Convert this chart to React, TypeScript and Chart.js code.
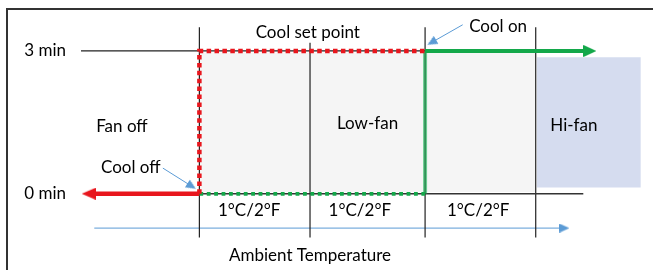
import React, { useEffect, useRef } from 'react';
import { Chart, registerables } from 'chart.js';

Chart.register(...registerables);

// ---- data (temperature steps in °C above the Cool-off point, delay in minutes) ----
const delayMinutes = [0, 3];
const delayLabels = ['0 min', '3 min'];
const stageEdges = [0, 1, 2.04, 3.04]; // Cool off, Cool set point, Cool on, Hi-fan
const dividerTops = [3.5, 3.17, 3.5, 3.5];
const dividerBottom = -0.92;
const stepLabels = ['1°C/2°F', '1°C/2°F', '1°C/2°F'];
const stepLabelX = [0.45, 1.45, 2.52];
const stepLabelY = -0.35;
const zoneNames = ['Fan off', 'Low-fan', 'Hi-fan'];
const zoneX = [-0.7, 1.52, 3.385];
const zoneY = [1.42, 1.47, 1.44];
const hiFanX = [3.05, 3.99];
const hiFanY = [0.13, 2.87];
const topLineStart = -1.07;
const baseLineEnd = 3.47;
const offArrowEnd = -1.0;
const onArrowEnd = 3.53;
const axisArrowY = -0.72;
const axisArrowX = [-0.95, 3.3];
const coolOffPointer = [{ x: -0.33, y: 0.54 }, { x: -0.07, y: 0.16 }];
const coolOnPointer = [{ x: 2.38, y: 3.55 }, { x: 2.1, y: 3.18 }];
const titleTexts = ['Cool set point', 'Cool on', 'Cool off', 'Ambient Temperature'];
const titleX = [0.98, 2.7, -0.62, 1.0];
const titleY = [3.38, 3.52, 0.56, -1.29];

const FONT = 'Lato, "Open Sans", sans-serif';
const RED = '#e8161d';
const GREEN = '#13a84a';
const BLUE = '#5b9bd5';

function arrowHead(len: number, half: number, color: string) {
  const c = document.createElement('canvas');
  c.width = len;
  c.height = half * 2;
  const g = c.getContext('2d')!;
  g.fillStyle = color;
  g.beginPath();
  g.moveTo(0, 0);
  g.lineTo(len, half);
  g.lineTo(0, half * 2);
  g.closePath();
  g.fill();
  return c;
}

const pointerRotation = (ctx: any) => {
  const d = ctx.dataset.data;
  const sx = ctx.chart.scales.x;
  const sy = ctx.chart.scales.y;
  const dx = sx.getPixelForValue(d[1].x) - sx.getPixelForValue(d[0].x);
  const dy = sy.getPixelForValue(d[1].y) - sy.getPixelForValue(d[0].y);
  return (Math.atan2(dy, dx) * 180) / Math.PI;
};

const zeroPadding = (s: any) => {
  s.paddingTop = 0;
  s.paddingBottom = 0;
  s.paddingLeft = 0;
  s.paddingRight = 0;
};

const textPlugin = {
  id: 'diagramText',
  beforeDraw(chart: any) {
    const ctx = chart.ctx;
    ctx.save();
    ctx.fillStyle = '#333';
    ctx.fillRect(6, 8, 2, chart.height);
    ctx.fillRect(6, 8, chart.width, 2);
    ctx.restore();
  },
  afterDatasetsDraw(chart: any) {
    const ctx = chart.ctx;
    const sx = chart.scales.x;
    const sy = chart.scales.y;
    ctx.save();
    ctx.font = `17px ${FONT}`;
    ctx.fillStyle = '#000';
    ctx.textAlign = 'center';
    ctx.textBaseline = 'middle';
    const put = (t: string, x: number, y: number) =>
      ctx.fillText(t, sx.getPixelForValue(x), sy.getPixelForValue(y));
    stepLabels.forEach((t, i) => put(t, stepLabelX[i], stepLabelY));
    zoneNames.forEach((t, i) => put(t, zoneX[i], zoneY[i]));
    titleTexts.forEach((t, i) => put(t, titleX[i], titleY[i]));
    ctx.restore();
  },
};

export default function App() {
  const ref = useRef<HTMLCanvasElement>(null);
  useEffect(() => {
    const redHead = arrowHead(14, 6, RED);
    const greenHead = arrowHead(13, 6, GREEN);
    const blueHead = arrowHead(10, 4.5, BLUE);
    const ptrHead = arrowHead(10, 4.5, BLUE);
    const e = stageEdges;
    const dividerData: any[] = [];
    e.forEach((x, i) => {
      dividerData.push({ x, y: dividerTops[i] }, { x, y: dividerBottom }, { x, y: null });
    });
    const line = (extra: any) => ({
      type: 'line',
      pointRadius: 0,
      pointHoverRadius: 0,
      borderCapStyle: 'butt',
      fill: false,
      tension: 0,
      ...extra,
    });
    const chart = new Chart(ref.current!, {
      type: 'line',
      data: {
        datasets: [
          line({
            label: 'Cool off',
            data: [{ x: e[0], y: delayMinutes[0] }, { x: offArrowEnd, y: delayMinutes[0] }],
            borderColor: RED,
            borderWidth: 4.5,
            pointStyle: redHead,
            pointRadius: [0, 6],
            rotation: 180,
            order: 1,
          }),
          line({
            label: 'Cool on',
            data: [{ x: e[2], y: delayMinutes[1] }, { x: onArrowEnd, y: delayMinutes[1] }],
            borderColor: GREEN,
            borderWidth: 4,
            pointStyle: greenHead,
            pointRadius: [0, 6],
            order: 1,
          }),
          line({
            label: 'off path',
            data: [
              { x: e[0], y: delayMinutes[0] },
              { x: e[0], y: delayMinutes[1] },
              { x: e[2], y: delayMinutes[1] },
            ],
            borderColor: RED,
            borderWidth: 4.5,
            borderDash: [4.5, 3.4],
            order: 2,
          }),
          line({
            label: 'on path',
            data: [{ x: e[0], y: delayMinutes[0] }, { x: e[2], y: delayMinutes[0] }],
            borderColor: GREEN,
            borderWidth: 3.8,
            borderDash: [3.8, 3.6],
            order: 2,
          }),
          line({
            label: 'on rise',
            data: [{ x: e[2], y: delayMinutes[0] }, { x: e[2], y: delayMinutes[1] }],
            borderColor: 'rgba(19,176,80,0.62)',
            borderWidth: 4,
            order: 3,
          }),
          line({
            label: 'top line',
            data: [{ x: topLineStart, y: delayMinutes[1] }, { x: e[2], y: delayMinutes[1] }],
            borderColor: '#222',
            borderWidth: 1.2,
            order: 4,
          }),
          line({
            label: 'base line',
            data: [{ x: e[0], y: delayMinutes[0] }, { x: baseLineEnd, y: delayMinutes[0] }],
            borderColor: '#333',
            borderWidth: 1.6,
            order: 4,
          }),
          line({
            label: 'dividers',
            data: dividerData,
            borderColor: '#222',
            borderWidth: 1.2,
            spanGaps: false,
            order: 4,
          }),
          line({
            label: 'Ambient Temperature',
            data: [{ x: axisArrowX[0], y: axisArrowY }, { x: axisArrowX[1], y: axisArrowY }],
            borderColor: BLUE,
            borderWidth: 1,
            pointStyle: blueHead,
            pointRadius: [0, 5],
            order: 4,
          }),
          line({
            label: 'Cool off pointer',
            data: coolOffPointer,
            borderColor: BLUE,
            borderWidth: 1,
            pointStyle: ptrHead,
            pointRadius: [0, 5],
            rotation: pointerRotation,
            order: 4,
          }),
          line({
            label: 'Cool on pointer',
            data: coolOnPointer,
            borderColor: BLUE,
            borderWidth: 1,
            pointStyle: ptrHead,
            pointRadius: [0, 5],
            rotation: pointerRotation,
            order: 4,
          }),
          line({
            label: 'Hi-fan',
            data: [{ x: hiFanX[0], y: hiFanY[1] }, { x: hiFanX[1], y: hiFanY[1] }],
            borderWidth: 0,
            backgroundColor: '#d5dcef',
            fill: { value: hiFanY[0] },
            order: 6,
          }),
          line({
            label: 'Low-fan zone',
            data: [{ x: e[0], y: 2.96 }, { x: e[3], y: 2.96 }],
            borderWidth: 0,
            backgroundColor: '#f5f5f5',
            fill: { value: 0.04 },
            order: 6,
          }),
        ] as any,
      },
      options: {
        responsive: false,
        animation: false,
        events: [],
        layout: { padding: 0, autoPadding: false },
        plugins: { legend: { display: false }, tooltip: { enabled: false } },
        scales: {
          x: {
            type: 'linear',
            display: false,
            min: -1.07,
            max: 4.1,
            ticks: { display: false },
            afterFit: zeroPadding,
          },
          y: {
            type: 'linear',
            min: -1.6,
            max: 4.07,
            position: 'left',
            grid: { display: false, drawTicks: false },
            border: { display: false },
            afterBuildTicks: (s: any) => {
              s.ticks = delayMinutes.map((v) => ({ value: v }));
            },
            afterFit: (s: any) => {
              s.width = 81;
              zeroPadding(s);
            },
            ticks: {
              padding: 15,
              color: '#000',
              font: { family: FONT, size: 17 },
              callback: (v: any) => delayLabels[delayMinutes.indexOf(Number(v))] ?? '',
            },
          },
        },
      } as any,
      plugins: [textPlugin],
    });
    return () => chart.destroy();
  }, []);
  return (
    <canvas
      ref={ref}
      width={653}
      height={270}
      style={{ position: 'absolute', left: 0, top: 0, display: 'block', width: 653, height: 270 }}
    />
  );
}
